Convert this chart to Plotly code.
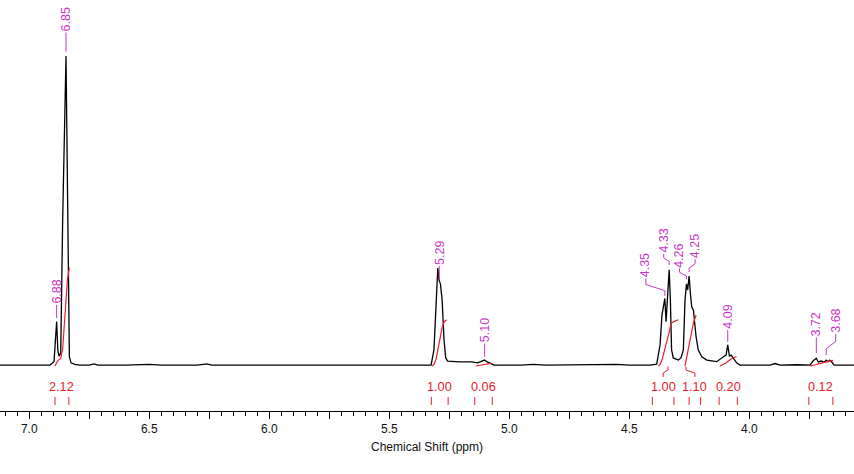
import numpy as np
import plotly.graph_objects as go

# ---------------- data ----------------
SPEC_PPM = [7.122, 7.05, 6.985, 6.97, 6.914, 6.897, 6.891, 6.886, 6.881, 6.876, 6.869, 6.861,
            6.847, 6.841, 6.833, 6.826, 6.81, 6.79, 6.75, 6.73, 6.715, 6.60, 6.50, 6.45, 6.30,
            6.26, 6.24, 6.00, 5.85, 5.70, 5.50, 5.40, 5.35,
            5.326, 5.314, 5.305, 5.298, 5.293, 5.287, 5.280, 5.272, 5.265, 5.257, 5.207, 5.157,
            5.132, 5.115, 5.103, 5.092, 5.064,
            4.95, 4.90, 4.85, 4.75, 4.62, 4.55, 4.50, 4.414,
            4.386, 4.372, 4.364, 4.352, 4.347, 4.341, 4.334, 4.329, 4.324, 4.317, 4.296, 4.285,
            4.275, 4.268, 4.262, 4.257, 4.251, 4.245, 4.240, 4.233, 4.222, 4.213, 4.198, 4.177,
            4.136, 4.108, 4.097, 4.090, 4.083, 4.076, 4.067, 4.053, 4.039,
            3.95, 3.914, 3.893, 3.872, 3.80, 3.747, 3.735, 3.721, 3.713, 3.701, 3.688, 3.680,
            3.672, 3.665, 3.656, 3.647, 3.60, 3.564]
SPEC_INT = [0.3, 0.3, 0.5, 0.3, 0.3, 1.4, 8.0, 14.3, 5.0, 3.2, 4.2, 47.0,
            100.0, 60.0, 3.0, 1.0, 0.5, 0.3, 0.3, 0.7, 0.3, 0.3, 0.5, 0.3, 0.3,
            0.7, 0.3, 0.3, 0.4, 0.3, 0.3, 0.4, 0.3,
            0.3, 5.2, 21.0, 31.6, 27.7, 26.5, 21.3, 8.4, 2.6, 1.6, 1.3, 1.3,
            1.0, 1.4, 1.9, 1.3, 0.3,
            0.3, 0.5, 0.3, 0.4, 0.3, 0.5, 0.3, 0.3,
            0.6, 6.8, 16.5, 21.8, 14.3, 21.3, 31.0, 21.3, 5.2, 2.6, 1.9, 2.6,
            5.2, 21.3, 26.5, 24.5, 29.0, 22.9, 19.0, 18.0, 9.5, 5.2, 3.0, 1.9,
            1.4, 3.0, 3.5, 6.8, 3.2, 3.5, 2.6, 1.0, 0.3,
            0.3, 0.3, 0.8, 0.3, 0.4, 0.3, 1.6, 2.5, 1.3, 1.6, 1.2, 1.9,
            1.4, 1.9, 1.2, 0.3, 0.3, 0.3]

PEAK_TEXT = ["6.88", "6.85", "5.29", "5.10", "4.35", "4.33", "4.26", "4.25", "4.09", "3.72", "3.68"]
PEAK_PPM = [6.886, 6.847, 5.292, 5.103, 4.352, 4.334, 4.262, 4.251, 4.090, 3.721, 3.680]

INT_VALUE = [2.12, 1.00, 0.06, 1.00, 1.10, 0.20, 0.12]
INT_FROM = [6.893, 5.325, 5.144, 4.404, 4.251, 4.126, 3.752]
INT_TO = [6.835, 5.255, 5.071, 4.314, 4.203, 4.050, 3.652]
CURVE_FROM = [6.893, 5.323, 5.139, 4.379, 4.268, 4.122, 3.747]
CURVE_TO = [6.832, 5.261, 5.072, 4.296, 4.222, 4.053, 3.651]
INT_LINK = [None, None, None, 4.339, 4.264, None, None]

TICK_VALS = [7.0, 6.75, 6.5, 6.25, 6.0, 5.75, 5.5, 5.25, 5.0, 4.75, 4.5, 4.25, 4.0, 3.75]
TICK_TEXT = ["7.0", "", "6.5", "", "6.0", "", "5.5", "", "5.0", "", "4.5", "", "4.0", ""]

# ---------------- style ----------------
W, H = 854, 474
MB = 63
PLOT_H = H - MB
X_RANGE = [7.122, 3.564]
Y_RANGE = [-14.52, 118.06]
PXY = (Y_RANGE[1] - Y_RANGE[0]) / PLOT_H      # data units per px (y)
PXX = (X_RANGE[0] - X_RANGE[1]) / W           # ppm per px (x)
MAGENTA = "#C935C9"
RED = "#E8202A"
FONT = "Liberation Sans, Arial, sans-serif"
INT_SCALE = 46.3 * PXY

# per-label style: (dx px, gap px, connector length px)
LABEL_STYLE = [(0, 3.7, 13), (0, 4.5, 19), (0, 1, 14), (0, 3.5, 13), (-19, 2.5, 17.5),
               (-5.5, 5, 11), (-7, 4.5, 11), (6, 4, 13), (0, 3, 12), (0, 5, 16), (9.5, 5, 21)]

ppm_arr = np.array(SPEC_PPM)
int_arr = np.array(SPEC_INT)


def spec_at(p):
    return float(np.interp(p, ppm_arr[::-1], int_arr[::-1]))


fig = go.Figure()
fig.add_trace(go.Scatter(x=SPEC_PPM, y=SPEC_INT, mode="lines",
                         line=dict(color="black", width=1.3), hoverinfo="skip"))

# integral curves
for v, a, b in zip(INT_VALUE, CURVE_FROM, CURVE_TO):
    m = (ppm_arr < a) & (ppm_arr > b)
    xs = np.concatenate([[a], ppm_arr[m], [b]])
    ys = np.interp(xs, ppm_arr[::-1], int_arr[::-1])
    area = np.concatenate([[0.0], np.cumsum(0.5 * (ys[1:] + ys[:-1]) * (xs[:-1] - xs[1:]))])
    curve = area / area[-1] * v * INT_SCALE
    fig.add_trace(go.Scatter(x=xs, y=curve, mode="lines",
                             line=dict(color=RED, width=1.2), hoverinfo="skip"))

shapes = []
annotations = []

# peak labels
for txt, p, (dx, gap, ln) in zip(PEAK_TEXT, PEAK_PPM, LABEL_STYLE):
    s = spec_at(p)
    y_end = s + gap * PXY
    y_top = s + (gap + ln) * PXY
    xt = p - dx * PXX
    if dx == 0:
        path = f"M {p},{y_end} L {p},{y_top}"
    else:
        y1 = y_top - 0.35 * ln * PXY
        y2 = y_top - 0.70 * ln * PXY
        path = f"M {xt},{y_top} L {xt},{y1} L {p},{y2} L {p},{y_end}"
    shapes.append(dict(type="path", path=path, xref="x", yref="y",
                       line=dict(color=MAGENTA, width=1)))
    annotations.append(dict(x=xt, y=y_top + 13 * PXY, xref="x", yref="y", text=txt,
                            textangle=-90, showarrow=False, xanchor="center", yanchor="middle",
                            font=dict(family=FONT, size=12.5, color=MAGENTA)))

# integral labels and markers
for v, a, b, link in zip(INT_VALUE, INT_FROM, INT_TO, INT_LINK):
    mid = 0.5 * (a + b)
    annotations.append(dict(x=mid, y=-21 * PXY, xref="x", yref="y", text=f"{v:.2f}",
                            showarrow=False, xanchor="center", yanchor="middle",
                            font=dict(family=FONT, size=12.7, color=RED)))
    for edge in (a, b):
        shapes.append(dict(type="line", x0=edge, x1=edge, y0=-31 * PXY, y1=-39 * PXY,
                           xref="x", yref="y", line=dict(color=RED, width=1)))
    if link is not None:
        path = (f"M {mid},{-11 * PXY} L {mid},{-7 * PXY} L {link},{-4 * PXY} "
                f"L {link},{-0.5 * PXY}")
        shapes.append(dict(type="path", path=path, xref="x", yref="y",
                           line=dict(color=RED, width=1)))

fig.update_layout(
    width=W, height=H,
    margin=dict(l=0, r=0, t=0, b=MB, autoexpand=False),
    paper_bgcolor="white", plot_bgcolor="white",
    showlegend=False,
    shapes=shapes, annotations=annotations,
    font=dict(family=FONT, size=12, color="#111111"),
    xaxis=dict(range=X_RANGE, showgrid=False, zeroline=False, showline=True,
               linecolor="black", linewidth=1, ticks="outside", ticklen=7, tickwidth=1,
               tickcolor="black", tickmode="array", tickvals=TICK_VALS, ticktext=TICK_TEXT,
               tickfont=dict(family=FONT, size=12, color="#111111"),
               minor=dict(tickmode="linear", tick0=0, dtick=0.05, ticks="outside",
                          ticklen=4, tickcolor="black", tickwidth=1),
               title=dict(text="Chemical Shift (ppm)", standoff=7,
                          font=dict(family=FONT, size=12, color="#111111")),
               automargin=False),
    yaxis=dict(range=Y_RANGE, visible=False, fixedrange=True),
)

fig.write_html("out.html")
